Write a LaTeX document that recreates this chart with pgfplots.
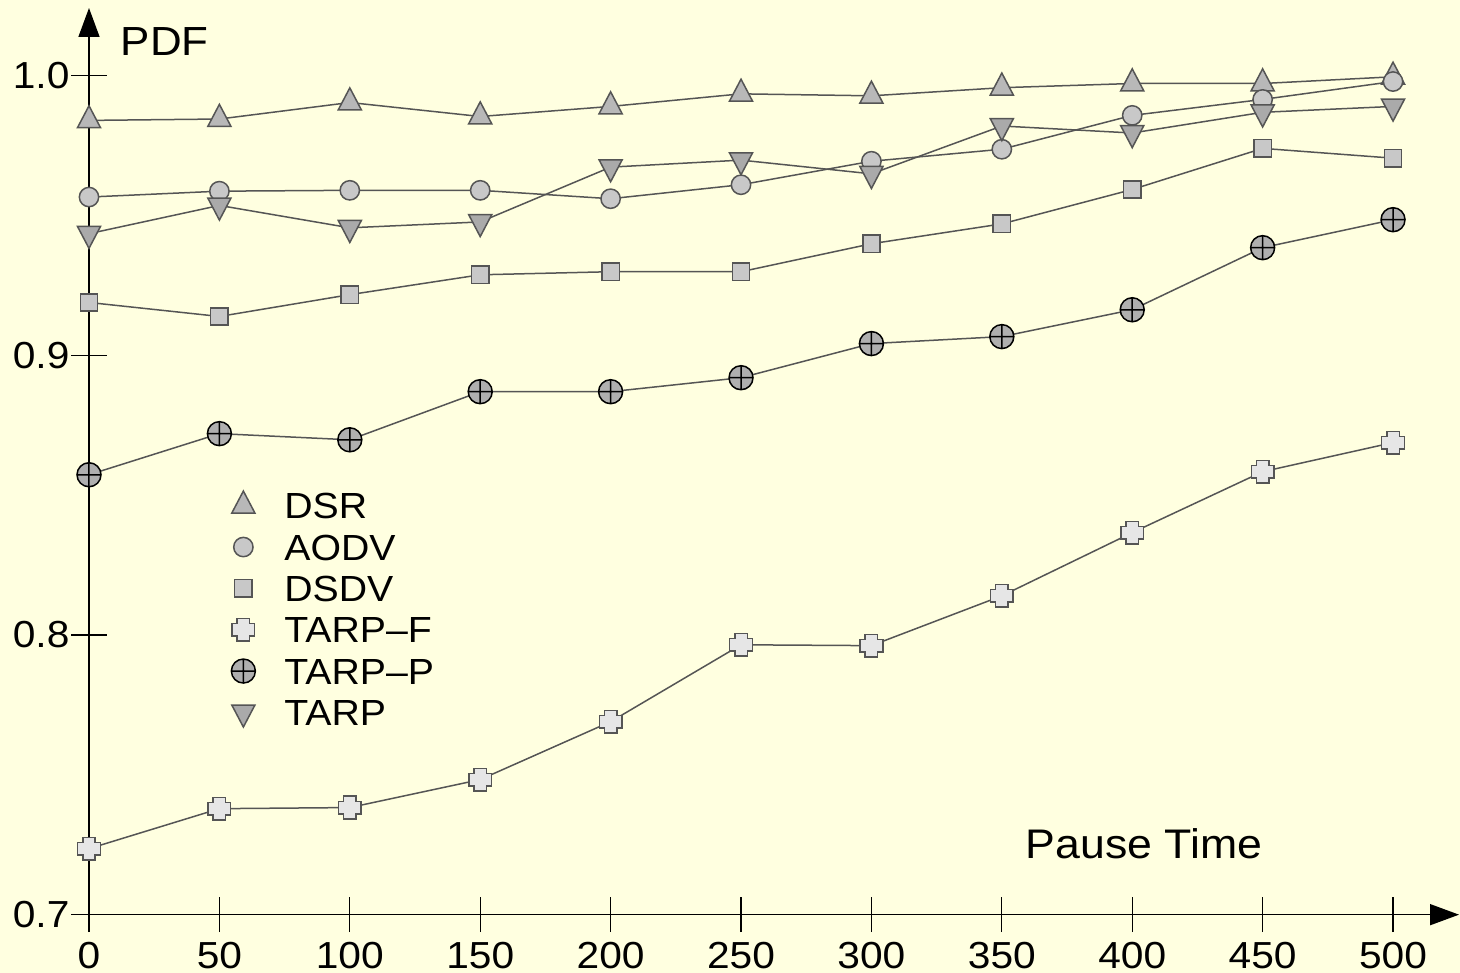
\documentclass[border=0pt]{standalone}
\usepackage{pgfplots}
\pgfplotsset{compat=1.18}
\usepackage{fontspec}
\setmainfont{Liberation Sans}[FakeStretch=1.08]
\usetikzlibrary{arrows.meta,backgrounds,calc}
\definecolor{bg}{RGB}{255,255,224}
\definecolor{ln}{RGB}{85,85,85}
\definecolor{mk}{RGB}{60,60,60}
\definecolor{fa}{RGB}{184,184,184}
\definecolor{fb}{RGB}{200,200,200}
\definecolor{fc}{RGB}{230,230,230}
\definecolor{fd}{RGB}{175,175,175}
\definecolor{fe}{RGB}{170,170,170}
\pgfdeclareplotmark{fatplus}{%
  \pgfpathmoveto{\pgfqpoint{-0.55\pgfplotmarksize}{\pgfplotmarksize}}%
  \pgfpathlineto{\pgfqpoint{0.55\pgfplotmarksize}{\pgfplotmarksize}}%
  \pgfpathlineto{\pgfqpoint{0.55\pgfplotmarksize}{0.55\pgfplotmarksize}}%
  \pgfpathlineto{\pgfqpoint{\pgfplotmarksize}{0.55\pgfplotmarksize}}%
  \pgfpathlineto{\pgfqpoint{\pgfplotmarksize}{-0.55\pgfplotmarksize}}%
  \pgfpathlineto{\pgfqpoint{0.55\pgfplotmarksize}{-0.55\pgfplotmarksize}}%
  \pgfpathlineto{\pgfqpoint{0.55\pgfplotmarksize}{-\pgfplotmarksize}}%
  \pgfpathlineto{\pgfqpoint{-0.55\pgfplotmarksize}{-\pgfplotmarksize}}%
  \pgfpathlineto{\pgfqpoint{-0.55\pgfplotmarksize}{-0.55\pgfplotmarksize}}%
  \pgfpathlineto{\pgfqpoint{-\pgfplotmarksize}{-0.55\pgfplotmarksize}}%
  \pgfpathlineto{\pgfqpoint{-\pgfplotmarksize}{0.55\pgfplotmarksize}}%
  \pgfpathlineto{\pgfqpoint{-0.55\pgfplotmarksize}{0.55\pgfplotmarksize}}%
  \pgfpathclose
  \pgfusepathqfillstroke}
\begin{document}
\begin{tikzpicture}
\begin{axis}[name=ax,
  scale only axis, width=411pt, height=272pt,
  xmin=0, xmax=525.3, ymin=0.7, ymax=1.0242,
  axis lines=left,
  axis line style={black, line width=0.45pt, -{Triangle[length=8.7pt,width=6.3pt]}},
  clip=false,
  xtick={0,50,...,500}, ytick={0.7,0.8,0.9,1.0},
  yticklabel style={/pgf/number format/fixed,/pgf/number format/fixed zerofill,/pgf/number format/precision=1, xshift=2.9pt},
  xticklabel style={yshift=0.4pt},
  tick align=center, major tick length=10.5pt,
  tick style={black, line width=0.4pt},
  ticklabel style={font=\fontsize{11.3}{13}\selectfont},
  /pgf/number format/assume math mode=true,
  every axis plot/.append style={color=ln, line width=0.45pt, mark options={draw=mk, line width=0.5pt, solid}},
  legend image code/.code={\draw[#1] plot coordinates {(0cm,0cm)};},
  legend style={at={(axis cs:50.5,0.8541)}, anchor=north west, draw=none, fill=none,
    font=\fontsize{10.9}{12}\selectfont, row sep=4.6pt,
    nodes={inner sep=0pt, text height=7.8pt, text depth=0pt},
    /tikz/every odd column/.style={column sep=8.7pt}},
  legend cell align=left,
]
\addplot[mark=triangle*, mark size=4pt, mark options={fill=fa, yscale=1.1}] coordinates {
(0,0.984)(50,0.9845)(100,0.9904)(150,0.9854)(200,0.989)(250,0.9935)(300,0.9928)(350,0.9957)(400,0.9972)(450,0.9972)(500,0.9996)};
\addlegendentry{DSR}
\addplot[mark=*, mark size=2.9pt, mark options={fill=fb}] coordinates {
(0,0.9566)(50,0.9587)(100,0.959)(150,0.959)(200,0.956)(250,0.961)(300,0.9694)(350,0.9737)(400,0.9858)(450,0.9915)(500,0.9979)};
\addlegendentry{AODV}
\addplot[mark=square*, mark size=2.6pt, mark options={fill=fb}] coordinates {
(0,0.9189)(50,0.9139)(100,0.9217)(150,0.9288)(200,0.9299)(250,0.9299)(300,0.9399)(350,0.947)(400,0.9593)(450,0.974)(500,0.9705)};
\addlegendentry{DSDV}
\addplot[mark=fatplus, mark size=3.4pt, mark options={fill=fc}] coordinates {
(0,0.7236)(50,0.7379)(100,0.7383)(150,0.7483)(200,0.769)(250,0.7965)(300,0.7962)(350,0.814)(400,0.8366)(450,0.8584)(500,0.8688)};
\addlegendentry{TARP--F}
\addplot[mark=oplus*, mark size=3.6pt, mark options={fill=fd, draw=black}] coordinates {
(0,0.8573)(50,0.872)(100,0.8698)(150,0.887)(200,0.887)(250,0.892)(300,0.9042)(350,0.9067)(400,0.9163)(450,0.9385)(500,0.9485)};
\addlegendentry{TARP--P}
\addplot[mark=triangle*, mark size=4pt, mark options={fill=fe, rotate=180, yscale=1.1}] coordinates {
(0,0.9435)(50,0.9536)(100,0.9456)(150,0.9477)(200,0.9673)(250,0.9698)(300,0.9649)(350,0.982)(400,0.9795)(450,0.9869)(500,0.989)};
\addlegendentry{TARP}
\node[anchor=west, inner sep=0pt, font=\fontsize{12.2}{14}\selectfont] at (axis cs:12,1.0122) {PDF};
\node[anchor=west, inner sep=0pt, font=\fontsize{12.4}{14}\selectfont] at (axis cs:359,0.7254) {Pause Time};
\end{axis}
\begin{scope}[on background layer]
\fill[bg] ($(ax.south west)+(-26.7pt,-17.4pt)$) rectangle ($(ax.north east)+(0.3pt,2.4pt)$);
\end{scope}
\pgfresetboundingbox
\path[use as bounding box] ($(ax.south west)+(-26.7pt,-17.4pt)$) rectangle ($(ax.north east)+(0.3pt,2.4pt)$);
\end{tikzpicture}
\end{document}
